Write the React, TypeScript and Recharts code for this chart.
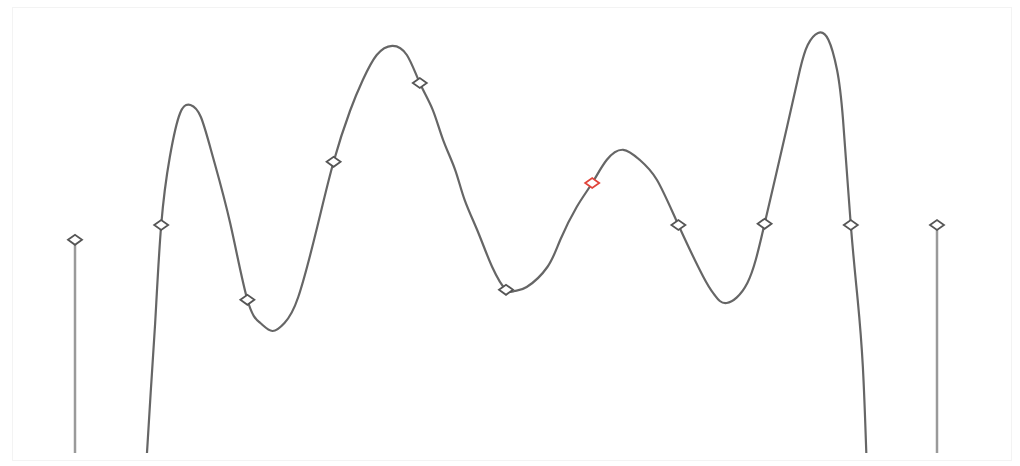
import { ComposedChart, Line, Scatter, XAxis, YAxis } from "recharts";

// Marker values, one per sample index 0..10
const MARKER_VALUES = [53.3, 57, 38.3, 72.8, 92.5, 40.8, 67.5, 57, 57.3, 57, 57];
const HIGHLIGHT_INDEX = 6;

// Smooth curve (x = sample index, v = value)
const CURVE_X = [
  0.835, 0.88, 0.93, 1, 1.1, 1.22, 1.34, 1.46, 1.6, 1.8, 2, 2.15, 2.29, 2.43,
  2.59, 2.81, 3, 3.19, 3.34, 3.5, 3.68, 3.85, 4, 4.15, 4.27, 4.41, 4.52, 4.68,
  4.84, 5, 5.1, 5.24, 5.48, 5.63, 5.82, 6, 6.17, 6.36, 6.55, 6.75, 7, 7.29,
  7.42, 7.56, 7.8, 8, 8.26, 8.41, 8.5, 8.62, 8.74, 8.84, 8.91, 9, 9.08, 9.14,
  9.18,
];
const CURVE_V = [
  0, 15.8, 32.5, 57, 74, 85, 87, 84, 74, 57.5, 38.3, 32.5, 30.5, 32.5,
  39, 56.5, 72.8, 85.5, 93.3, 99.5, 101.8, 99.5, 92.5, 85.8, 78.3, 70.8, 63.3, 55,
  46.5, 40.8, 40.5, 41.5, 46.5, 53.3, 61.5, 67.5, 73.3, 75.8, 73.3, 68.3, 57, 44,
  39.5, 37.5, 42.5, 57.3, 81.5, 95.8, 102, 105, 103.3, 95.8, 83.3, 57, 38.3, 21.5,
  0,
];

// Vertical stems at the two ends
const STEM_LEFT_X = 0;
const STEM_RIGHT_X = 10;

const curve = CURVE_X.map((x, i) => ({ x, v: CURVE_V[i] }));
const markers = MARKER_VALUES.map((v, i) => ({ x: i, v }));
const plainMarkers = markers.filter((_, i) => i !== HIGHLIGHT_INDEX);
const redMarkers = markers.filter((_, i) => i === HIGHLIGHT_INDEX);
const stemLeft = [
  { x: STEM_LEFT_X, v: 0 },
  { x: STEM_LEFT_X, v: MARKER_VALUES[STEM_LEFT_X] },
];
const stemRight = [
  { x: STEM_RIGHT_X, v: 0 },
  { x: STEM_RIGHT_X, v: MARKER_VALUES[STEM_RIGHT_X] },
];

function diamond(color: string) {
  return (props: any) => {
    const { cx, cy } = props;
    const w = 7;
    const h = 5;
    return (
      <polygon
        points={`${cx - w},${cy} ${cx},${cy - h} ${cx + w},${cy} ${cx},${cy + h}`}
        fill="#ffffff"
        stroke={color}
        strokeWidth={1.8}
      />
    );
  };
}

export default function App() {
  return (
    <div
      style={{
        position: "fixed",
        left: 0,
        top: 0,
        width: 1020,
        height: 466,
        background: "#fff",
      }}
    >
      <div
        style={{
          position: "absolute",
          left: 12,
          top: 7,
          width: 998,
          height: 452,
          border: "1px solid #f3f3f3",
        }}
      />
      <div style={{ position: "absolute", left: 0, top: 0 }}>
        <ComposedChart
          width={1020}
          height={466}
          margin={{ top: 13, right: 83, bottom: 13, left: 75 }}
        >
          <XAxis type="number" dataKey="x" domain={[0, 10]} hide />
          <YAxis type="number" dataKey="v" domain={[0, 110]} hide allowDataOverflow />
          <Line
            data={stemLeft}
            dataKey="v"
            stroke="#9a9a9a"
            strokeWidth={2.5}
            dot={false}
            isAnimationActive={false}
          />
          <Line
            data={stemRight}
            dataKey="v"
            stroke="#9a9a9a"
            strokeWidth={2.5}
            dot={false}
            isAnimationActive={false}
          />
          <Line
            data={curve}
            dataKey="v"
            type="natural"
            stroke="#666666"
            strokeWidth={2.2}
            dot={false}
            isAnimationActive={false}
          />
          <Scatter
            data={plainMarkers}
            dataKey="v"
            shape={diamond("#555555")}
            isAnimationActive={false}
          />
          <Scatter
            data={redMarkers}
            dataKey="v"
            shape={diamond("#e0443a")}
            isAnimationActive={false}
          />
        </ComposedChart>
      </div>
    </div>
  );
}
